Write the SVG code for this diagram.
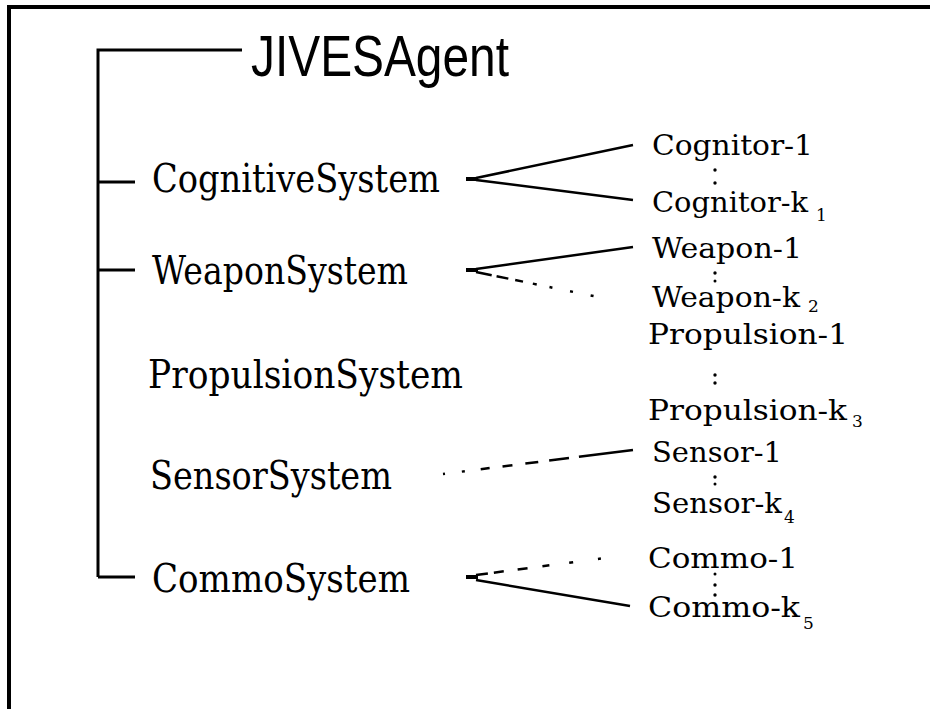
<svg xmlns="http://www.w3.org/2000/svg" width="930" height="709" viewBox="0 0 930 709">
<style>
.bg{fill:#fff}
.frame{stroke:#000;stroke-width:4;fill:none}
.tree{stroke:#000;stroke-width:3;fill:none}
.con{stroke:#000;stroke-width:2.5;fill:none}
.stub{stroke:#000;stroke-width:4}
.sys{font-family:"DejaVu Serif","Liberation Serif",serif;font-size:40px;fill:#000}
.sub{font-family:"DejaVu Serif","Liberation Serif",serif;font-size:28px;fill:#000}
.idx{font-family:"DejaVu Serif","Liberation Serif",serif;font-size:17px;fill:#000}
.root{font-family:"Liberation Sans",Arial,sans-serif;font-size:58px;fill:#000}
.dot{fill:#000}
</style>
<rect class="bg" x="0" y="0" width="930" height="709"/>
<path class="frame" d="M9 709 V7 H930"/>

<g id="connectors">
  <path class="tree" d="M98 50 V577 M96.5 50 H242 M98 182 H135 M98 270 H135 M98 577 H135"/>
  <!-- Cognitive -->
  <line class="stub" x1="466" y1="179" x2="478" y2="179"/>
  <path class="con" d="M476 178 L633 145 M476 180 L633 200"/>
  <!-- Weapon -->
  <line class="stub" x1="466" y1="270" x2="478" y2="270"/>
  <path class="con" d="M476 269 L633 247"/>
  <path class="con" d="M476 272 L598 297" stroke-dasharray="16 5 12 7 8 10 4 13 3 18 3 18 3 100"/>
  <!-- Sensor -->
  <path class="con" d="M443 474 L633 450" stroke-dasharray="2 17 3 16 9 13 10 13 13 11 20 10 60"/>
  <!-- Commo -->
  <line class="stub" x1="466" y1="577" x2="478" y2="577"/>
  <path class="con" d="M476 575 L605 558" stroke-dasharray="12 6 10 14 10 15 7 20 4 25 3 40"/>
  <path class="con" d="M476 580 L630 606"/>
</g>

<g id="JIVESAgent"><text class="root" x="251" y="76" textLength="258" lengthAdjust="spacingAndGlyphs">JIVESAgent</text></g>

<g id="CognitiveSystem"><text class="sys" x="152" y="192" textLength="288" lengthAdjust="spacingAndGlyphs">CognitiveSystem</text></g>
<g id="WeaponSystem"><text class="sys" x="152" y="284" textLength="256" lengthAdjust="spacingAndGlyphs">WeaponSystem</text></g>
<g id="PropulsionSystem"><text class="sys" x="148" y="388" textLength="315" lengthAdjust="spacingAndGlyphs">PropulsionSystem</text></g>
<g id="SensorSystem"><text class="sys" x="150" y="489" textLength="242" lengthAdjust="spacingAndGlyphs">SensorSystem</text></g>
<g id="CommoSystem"><text class="sys" x="152" y="592" textLength="258" lengthAdjust="spacingAndGlyphs">CommoSystem</text></g>

<g id="Cognitor-1"><text class="sub" x="652" y="155" textLength="161" lengthAdjust="spacingAndGlyphs">Cognitor-1</text></g>
<g id="Cognitor-k1"><text class="sub" x="652" y="212" textLength="156" lengthAdjust="spacingAndGlyphs">Cognitor-k</text><text class="idx" x="816" y="221">1</text></g>
<g id="Weapon-1"><text class="sub" x="652" y="258" textLength="150" lengthAdjust="spacingAndGlyphs">Weapon-1</text></g>
<g id="Weapon-k2"><text class="sub" x="652" y="307" textLength="148" lengthAdjust="spacingAndGlyphs">Weapon-k</text><text class="idx" x="808" y="312">2</text></g>
<g id="Propulsion-1"><text class="sub" x="648" y="344" textLength="200" lengthAdjust="spacingAndGlyphs">Propulsion-1</text></g>
<g id="Propulsion-k3"><text class="sub" x="648" y="420" textLength="199" lengthAdjust="spacingAndGlyphs">Propulsion-k</text><text class="idx" x="852" y="427">3</text></g>
<g id="Sensor-1"><text class="sub" x="652" y="462" textLength="130" lengthAdjust="spacingAndGlyphs">Sensor-1</text></g>
<g id="Sensor-k4"><text class="sub" x="652" y="513" textLength="130" lengthAdjust="spacingAndGlyphs">Sensor-k</text><text class="idx" x="784" y="523">4</text></g>
<g id="Commo-1"><text class="sub" x="648" y="568" textLength="150" lengthAdjust="spacingAndGlyphs">Commo-1</text></g>
<g id="Commo-k5"><text class="sub" x="648" y="617" textLength="152" lengthAdjust="spacingAndGlyphs">Commo-k</text><text class="idx" x="803" y="629">5</text></g>

<g id="ellipses">
  <circle class="dot" cx="715" cy="170" r="1.7"/><circle class="dot" cx="715" cy="183" r="1.7"/>
  <circle class="dot" cx="715" cy="273" r="1.7"/><circle class="dot" cx="715" cy="281" r="1.5"/>
  <circle class="dot" cx="715" cy="375" r="1.7"/><circle class="dot" cx="715" cy="383" r="1.7"/>
  <circle class="dot" cx="715" cy="477" r="1.7"/><circle class="dot" cx="715" cy="484" r="1.5"/>
  <circle class="dot" cx="715" cy="574" r="1.5"/><circle class="dot" cx="715" cy="585" r="1.7"/><circle class="dot" cx="715" cy="595" r="1.7"/>
</g>
</svg>
